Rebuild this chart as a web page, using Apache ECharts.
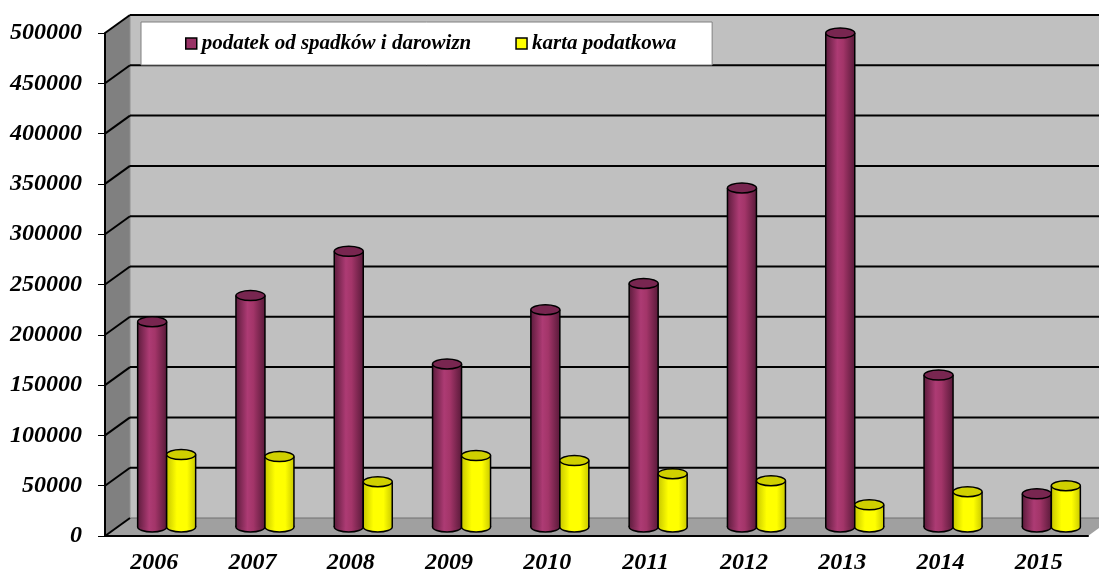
<!DOCTYPE html>
<html>
<head>
<meta charset="utf-8">
<script src="https://cdn.jsdelivr.net/npm/echarts@6/dist/echarts.min.js"></script>
<style>
  html, body { margin: 0; padding: 0; background: #fff; }
  #main { width: 1099px; height: 574px; }
</style>
</head>
<body>
<div id="main"></div>
<script>
// dane
const years = ["2006", "2007", "2008", "2009", "2010", "2011", "2012", "2013", "2014", "2015"];
const spadki = [204000, 230000, 274000, 162000, 216000, 242000, 337000, 491000, 151000, 33000];
const karta = [72000, 70000, 45000, 71000, 66000, 53000, 46000, 22000, 35000, 41000];
const yTicks = [0, 50000, 100000, 150000, 200000, 250000, 300000, 350000, 400000, 450000, 500000];

// przesuniecie glebokosci (sciana tylna)
const DX = 25, DY = -18;
const font = "'Liberation Serif', 'Times New Roman', serif";

(function () {
  let mychart = echarts.init(document.getElementById("main"));

  // sciany: boczna, tylna, podloga
  function renderWalls(params, api) {
    let cs = params.coordSys;
    let x = cs.x, y = cs.y, w = cs.width, h = cs.height;
    return {
      type: "group",
      children: [
        { type: "rect", shape: { x: x + DX, y: y + DY, width: w + 40, height: h }, style: { fill: "#c0c0c0" } },
        { type: "polygon", shape: { points: [[x, y], [x + DX, y + DY], [x + DX, y + h + DY], [x, y + h]] }, style: { fill: "#808080" } },
        { type: "polygon", shape: { points: [[x, y + h], [x + DX, y + h + DY], [x + w + DX, y + h + DY], [x + w, y + h]] }, style: { fill: "#a0a0a0" } },
        { type: "line", shape: { x1: x + DX, y1: y + h + DY, x2: x + w + DX, y2: y + h + DY }, style: { stroke: "#707070", lineWidth: 1 } },
        { type: "line", shape: { x1: x + DX, y1: y + DY, x2: x + DX, y2: y + h + DY }, style: { stroke: "#909090", lineWidth: 1 } },
      ],
    };
  }

  // linie siatki na scianie tylnej + skosy na bocznej
  function renderGrid(params, api) {
    let cs = params.coordSys;
    let p = api.coord([0, api.value(0)]);
    let yf = p[1];
    let children = [
      { type: "line", shape: { x1: cs.x, y1: yf, x2: cs.x + DX, y2: yf + DY }, style: { stroke: "#000", lineWidth: 2 } },
    ];
    if (api.value(0) > 0) {
      children.push({ type: "line", shape: { x1: cs.x + DX, y1: yf + DY, x2: cs.x + cs.width + DX + 20, y2: yf + DY }, style: { stroke: "#000", lineWidth: 2 } });
    }
    return { type: "group", children: children };
  }

  // walec
  function cylinder(offset, body, topFill) {
    return function (params, api) {
      let base = api.coord([api.value(0), 0]);
      let top = api.coord([api.value(0), api.value(1)]);
      let cx = base[0] + DX / 2 + offset;
      let y0 = base[1] + DY / 2;
      let y1 = top[1] + DY / 2;
      let rx = 14.5, ry = 5;
      let grad = new echarts.graphic.LinearGradient(0, 0, 1, 0, body);
      return {
        type: "group",
        children: [
          { type: "ellipse", shape: { cx: cx, cy: y0, rx: rx, ry: ry }, style: { fill: grad, stroke: "#000", lineWidth: 1.5 } },
          { type: "rect", shape: { x: cx - rx, y: y1, width: rx * 2, height: y0 - y1 }, style: { fill: grad } },
          { type: "line", shape: { x1: cx - rx, y1: y1, x2: cx - rx, y2: y0 }, style: { stroke: "#000", lineWidth: 1.5 } },
          { type: "line", shape: { x1: cx + rx, y1: y1, x2: cx + rx, y2: y0 }, style: { stroke: "#000", lineWidth: 1.5 } },
          { type: "ellipse", shape: { cx: cx, cy: y1, rx: rx, ry: ry }, style: { fill: topFill, stroke: "#000", lineWidth: 1.5 } },
        ],
      };
    };
  }

  let option = {
    animation: false,
    backgroundColor: "#fff",
    grid: { left: 105, top: 33, right: 11, bottom: 38, outerBoundsMode: "none", containLabel: false },
    legend: {
      left: 141,
      top: 22,
      padding: [11, 36, 11, 44],
      itemGap: 44,
      itemWidth: 11,
      itemHeight: 11,
      backgroundColor: "#fff",
      borderColor: "#808080",
      borderWidth: 1,
      textStyle: { fontFamily: font, fontSize: 21, fontWeight: "bold", fontStyle: "italic", color: "#000" },
      data: [
        { name: "podatek od spadków i darowizn", icon: "rect", itemStyle: { color: "#993366", borderColor: "#000", borderWidth: 1.5 } },
        { name: "karta podatkowa", icon: "rect", itemStyle: { color: "#ffff00", borderColor: "#000", borderWidth: 1.5 } },
      ],
    },
    xAxis: {
      type: "category",
      data: years,
      axisLine: { lineStyle: { color: "#000", width: 2 } },
      axisTick: { length: 6, lineStyle: { color: "#000", width: 1 } },
      axisLabel: { fontFamily: font, fontSize: 24, fontWeight: "bold", fontStyle: "italic", color: "#000", margin: 15 },
    },
    yAxis: {
      type: "value",
      min: 0,
      max: 500000,
      interval: 50000,
      axisLine: { show: true, lineStyle: { color: "#000", width: 2 } },
      axisTick: { show: true, length: 7, lineStyle: { color: "#000", width: 1 } },
      axisLabel: {
        fontFamily: font, fontSize: 24, fontWeight: "bold", fontStyle: "italic", color: "#000", margin: 23,
        formatter: function (v) { return String(v); },
      },
      splitLine: { show: false },
    },
    series: [
      { type: "custom", name: "walls", z: 0, silent: true, renderItem: renderWalls, data: [[0]] },
      { type: "custom", name: "gridlines", z: 1, silent: true, renderItem: renderGrid, encode: { y: 0 }, data: yTicks.map(function (v) { return [v]; }) },
      {
        type: "custom",
        name: "podatek od spadków i darowizn",
        z: 3,
        itemStyle: { color: "#993366" },
        renderItem: cylinder(-14.5, [
          { offset: 0, color: "#5e1c3d" },
          { offset: 0.4, color: "#ad3b74" },
          { offset: 0.6, color: "#a33569" },
          { offset: 1, color: "#5a1a3a" },
        ], "#782650"),
        encode: { x: 0, y: 1 },
        data: spadki.map(function (v, i) { return [i, v]; }),
      },
      {
        type: "custom",
        name: "karta podatkowa",
        z: 3,
        itemStyle: { color: "#ffff00" },
        renderItem: cylinder(14.5, [
          { offset: 0, color: "#c8c800" },
          { offset: 0.35, color: "#ffff00" },
          { offset: 0.7, color: "#ffff00" },
          { offset: 1, color: "#caca00" },
        ], "#d0d000"),
        encode: { x: 0, y: 1 },
        data: karta.map(function (v, i) { return [i, v]; }),
      },
    ],
  };
  mychart.setOption(option);
})();
</script>
</body>
</html>
